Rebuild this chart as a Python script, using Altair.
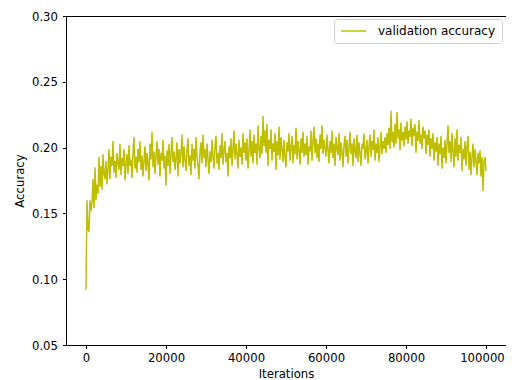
import altair as alt
import pandas as pd

step = 250
accuracy = [
    0.092, 0.160, 0.138, 0.136, 0.160, 0.152, 0.158, 0.176, 0.154, 0.185, 0.160, 0.172, 0.165, 0.193, 0.170, 0.186, 0.168, 0.195, 0.180, 0.176,
    0.190, 0.172, 0.184, 0.199, 0.176, 0.193, 0.186, 0.205, 0.181, 0.190, 0.177, 0.196, 0.188, 0.183, 0.203, 0.179, 0.192, 0.186, 0.199, 0.175,
    0.188, 0.195, 0.180, 0.202, 0.186, 0.191, 0.177, 0.196, 0.208, 0.184, 0.193, 0.181, 0.199, 0.189, 0.205, 0.183, 0.194, 0.178, 0.190, 0.201,
    0.182, 0.196, 0.188, 0.175, 0.203, 0.191, 0.212, 0.185, 0.197, 0.180, 0.193, 0.205, 0.187, 0.199, 0.178, 0.196, 0.190, 0.206, 0.184, 0.194,
    0.171, 0.198, 0.186, 0.203, 0.180, 0.195, 0.208, 0.189, 0.197, 0.183, 0.192, 0.204, 0.178, 0.199, 0.188, 0.196, 0.210, 0.185, 0.201, 0.191,
    0.182, 0.198, 0.207, 0.186, 0.194, 0.179, 0.203, 0.190, 0.199, 0.184, 0.208, 0.193, 0.186, 0.176, 0.197, 0.204, 0.188, 0.210, 0.192, 0.199,
    0.185, 0.203, 0.191, 0.180, 0.197, 0.189, 0.206, 0.193, 0.184, 0.200, 0.209, 0.188, 0.196, 0.183, 0.202, 0.192, 0.211, 0.187, 0.198, 0.205,
    0.189, 0.196, 0.178, 0.201, 0.192, 0.207, 0.186, 0.199, 0.213, 0.191, 0.203, 0.195, 0.184, 0.206, 0.193, 0.200, 0.187, 0.211, 0.196, 0.204,
    0.190, 0.207, 0.184, 0.198, 0.214, 0.193, 0.205, 0.188, 0.210, 0.196, 0.203, 0.187, 0.217, 0.199, 0.192, 0.209, 0.195, 0.224, 0.201, 0.213,
    0.196, 0.218, 0.186, 0.206, 0.199, 0.214, 0.190, 0.203, 0.197, 0.211, 0.183, 0.205, 0.194, 0.216, 0.191, 0.208, 0.198, 0.189, 0.206, 0.193,
    0.185, 0.204, 0.197, 0.211, 0.190, 0.200, 0.209, 0.188, 0.202, 0.195, 0.215, 0.191, 0.205, 0.198, 0.187, 0.207, 0.196, 0.212, 0.193, 0.203,
    0.194, 0.209, 0.187, 0.201, 0.197, 0.213, 0.190, 0.205, 0.216, 0.196, 0.207, 0.192, 0.203, 0.189, 0.210, 0.199, 0.217, 0.195, 0.206, 0.200,
    0.193, 0.210, 0.198, 0.188, 0.205, 0.196, 0.213, 0.192, 0.203, 0.186, 0.208, 0.199, 0.194, 0.211, 0.190, 0.204, 0.197, 0.185, 0.202, 0.209,
    0.193, 0.206, 0.188, 0.200, 0.212, 0.195, 0.203, 0.186, 0.207, 0.198, 0.192, 0.210, 0.189, 0.204, 0.196, 0.186, 0.203, 0.199, 0.211, 0.191,
    0.197, 0.206, 0.188, 0.201, 0.210, 0.193, 0.205, 0.198, 0.214, 0.190, 0.203, 0.196, 0.208, 0.189, 0.200, 0.212, 0.195, 0.205, 0.199, 0.208,
    0.196, 0.211, 0.202, 0.215, 0.199, 0.228, 0.204, 0.212, 0.200, 0.218, 0.203, 0.227, 0.207, 0.214, 0.198, 0.219, 0.205, 0.212, 0.201, 0.216,
    0.206, 0.220, 0.203, 0.213, 0.208, 0.222, 0.201, 0.215, 0.209, 0.218, 0.196, 0.212, 0.205, 0.221, 0.203, 0.210, 0.199, 0.216, 0.207, 0.213,
    0.195, 0.210, 0.202, 0.214, 0.193, 0.207, 0.199, 0.211, 0.190, 0.204, 0.197, 0.208, 0.186, 0.203, 0.195, 0.209, 0.184, 0.200, 0.192, 0.206,
    0.188, 0.203, 0.217, 0.196, 0.205, 0.189, 0.211, 0.198, 0.185, 0.207, 0.193, 0.214, 0.190, 0.202, 0.196, 0.208, 0.182, 0.199, 0.191, 0.205,
    0.186, 0.201, 0.209, 0.183, 0.197, 0.179, 0.193, 0.203, 0.185, 0.199, 0.190, 0.179, 0.196, 0.188, 0.198, 0.178, 0.193, 0.167, 0.190, 0.193,
    0.182,
]
iterations = [i * step for i in range(len(accuracy))]
series = ["validation accuracy"] * len(accuracy)

x_ticks = [0, 20000, 40000, 60000, 80000, 100000]
y_ticks = [0.05, 0.10, 0.15, 0.20, 0.25, 0.30]

df = pd.DataFrame({"Iterations": iterations, "Accuracy": accuracy, "series": series})

FONT = "DejaVu Sans"
FS = 11.7

chart = alt.Chart(df).mark_line(strokeWidth=1.5, clip=True).encode(
    x=alt.X("Iterations:Q",
            scale=alt.Scale(domain=[-5000, 105000], nice=False, zero=False),
            axis=alt.Axis(values=x_ticks, format="d",
                          title="Iterations", grid=False, tickSize=3.5, labelPadding=3.5,
                          labelOffset={"condition": {"test": "datum.value === 100000", "value": -4},
                                       "value": 0},
                          titlePadding=5)),
    y=alt.Y("Accuracy:Q",
            scale=alt.Scale(domain=[0.05, 0.30], nice=False, zero=False),
            axis=alt.Axis(values=y_ticks, format=".2f",
                          title="Accuracy", grid=False, tickSize=3.5, labelPadding=5,
                          titlePadding=6)),
    color=alt.Color("series:N", scale=alt.Scale(range=["#bfbf00"]),
                    legend=alt.Legend(title=None, orient="none", legendX=268, legendY=3,
                                      symbolType="stroke", symbolSize=625,
                                      symbolStrokeWidth=1.5, padding=6, clipHeight=12,
                                      strokeColor="#cccccc", cornerRadius=3,
                                      fillColor="white", labelFontSize=12,
                                      labelFont=FONT, labelColor="black",
                                      symbolOffset=0, labelOffset=11)),
).properties(
    width=440, height=329,
    autosize=alt.AutoSizeParams(type="none"),
    padding={"left": 58, "top": 8, "right": 0, "bottom": 35},
).configure_view(
    stroke="black", strokeWidth=1,
).configure_axis(
    domainColor="black", tickColor="black", labelColor="black", titleColor="black",
    labelFont=FONT, titleFont=FONT, labelFontSize=FS, titleFontSize=FS,
    titleFontWeight="normal", domainWidth=1, tickWidth=1,
)

chart.save("out.html", embed_options={"renderer": "svg", "actions": False})
